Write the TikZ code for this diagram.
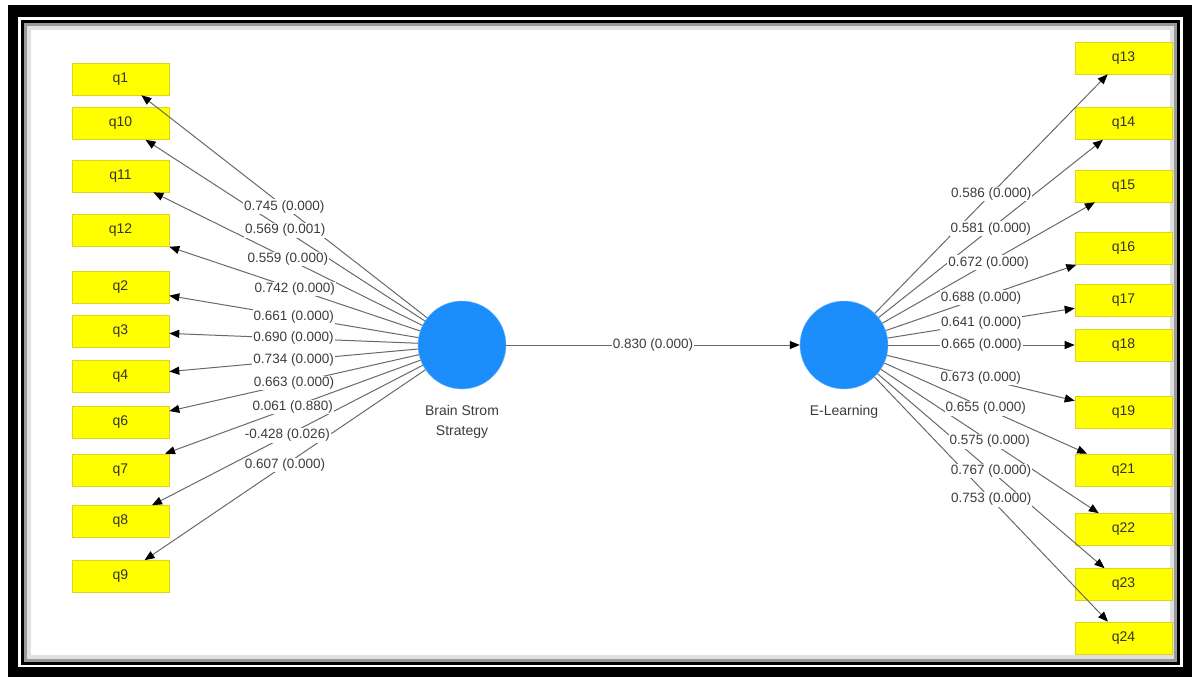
\documentclass[tikz,border=0pt]{standalone}
\usepackage{fontspec}
\setmainfont{Liberation Sans}
\usetikzlibrary{arrows.meta,positioning}
\definecolor{pls-blue}{RGB}{28,142,252}
\definecolor{pls-yellow}{RGB}{255,255,0}
\definecolor{pls-line}{RGB}{105,105,105}
\definecolor{pls-text}{RGB}{60,60,60}
\tikzset{
    item-box/.style = {draw=yellow!85!black, fill=pls-yellow, line width=0.6pt, rectangle, minimum width=97pt, minimum height=32pt, inner sep=0pt, font=\fontsize{14}{16}\selectfont, text=black!80},
    latent-circle/.style = {circle, fill=pls-blue, draw=pls-blue!60!white, minimum size=88pt, inner sep=0pt},
    latent-title/.style = {align=center, inner sep=0pt, font=\fontsize{14}{20}\selectfont, text=pls-text},
    load-arrow/.style = {draw=pls-line, line width=1pt, -{Triangle[length=10pt,width=8pt,color=black]}},
    coef-label/.style = {fill=white, inner sep=1pt, font=\fontsize{13.5}{15}\selectfont, text=pls-text},
}

\begin{document}
\begin{tikzpicture}[x=1pt,y=-1pt]
\useasboundingbox (0,0) rectangle (1192,677);
% frame
\fill[black] (8,5) rectangle (1192,677);
\fill[white] (18,17) rectangle (1183,667);
\draw[black, line width=3pt] (22.5,21.5) rectangle (1178.5,663.5);
\draw[black!40, line width=3pt] (25.5,24.5) rectangle (1175.5,660.5);
\draw[black!12, line width=4pt] (29,28) rectangle (1172,657);

% latent variables
\node[latent-circle] (bss) at (462,345) {};
\node[latent-circle] (elearn) at (844,345) {};
\node[latent-title, below=16pt of bss] (bss-title) {Brain Strom\\Strategy};
\node[latent-title, below=16pt of elearn] (elearn-title) {E-Learning};

% indicators
\foreach \name/\y in {q1/79, q10/123.5, q11/176, q12/230.5, q2/287.5, q3/331.5, q4/376, q6/422, q7/470, q8/521.5, q9/576.5}
    \node[item-box] (\name) at (120.5,\y) {\name};
\foreach \name/\y in {q13/58, q14/123.5, q15/186, q16/248.5, q17/300.5, q18/345, q19/412.5, q21/470, q22/529.5, q23/584.5, q24/638}
    \node[item-box] (\name) at (1123.5,\y) {\name};

% loadings
\foreach \name in {q1,q10,q11,q12,q2,q3,q4,q6,q7,q8,q9}
    \draw[load-arrow] (bss) -- (\name);
\foreach \name in {q13,q14,q15,q16,q17,q18,q19,q21,q22,q23,q24}
    \draw[load-arrow] (elearn) -- (\name);
\draw[load-arrow] (bss) -- (elearn);

% coefficients
\foreach \name/\val in {q1/0.745 (0.000), q10/0.569 (0.001), q11/0.559 (0.000), q12/0.742 (0.000), q2/0.661 (0.000), q3/0.690 (0.000), q4/0.734 (0.000), q6/0.663 (0.000), q7/0.061 (0.880), q8/-0.428 (0.026), q9/0.607 (0.000)}
    \path (bss) -- (\name) node[coef-label, midway] {\val};
\foreach \name/\val in {q13/0.586 (0.000), q14/0.581 (0.000), q15/0.672 (0.000), q16/0.688 (0.000), q17/0.641 (0.000), q18/0.665 (0.000), q19/0.673 (0.000), q21/0.655 (0.000), q22/0.575 (0.000), q23/0.767 (0.000), q24/0.753 (0.000)}
    \path (elearn) -- (\name) node[coef-label, midway] {\val};
\path (bss) -- (elearn) node[coef-label, midway] {0.830 (0.000)};
\end{tikzpicture}
\end{document}
